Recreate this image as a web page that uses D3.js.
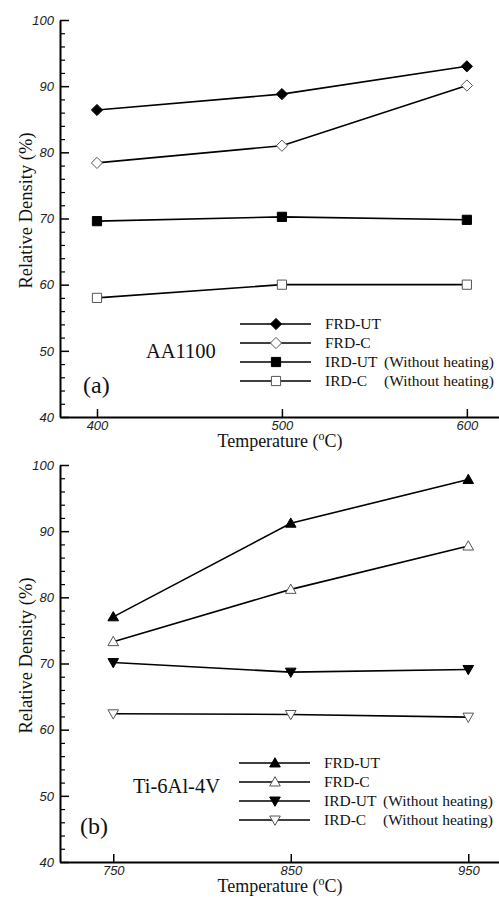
<!DOCTYPE html>
<meta charset="utf-8">
<style>
body { margin: 0; background: #fff; }
.tick text { font-family: Arial, "Liberation Sans", sans-serif; font-style: italic; font-size: 13px; fill: #222; }
.serif { font-family: "Liberation Serif", "Times New Roman", serif; fill: #111; }
</style>
<body>
<script src="https://cdn.jsdelivr.net/npm/d3@7"></script>
<script>
// panel (a) AA1100
var tempsA = [400, 500, 600];
var frdUtA = [86.4, 88.8, 93.0];
var frdCA = [78.4, 81.0, 90.1];
var irdUtA = [69.6, 70.25, 69.8];
var irdCA = [58.0, 60.0, 60.0];

// panel (b) Ti-6Al-4V
var tempsB = [750, 850, 950];
var frdUtB = [77.05, 91.2, 97.8];
var frdCB = [73.3, 81.2, 87.75];
var irdUtB = [70.15, 68.7, 69.1];
var irdCB = [62.4, 62.3, 61.9];

var seriesNames = ["FRD-UT", "FRD-C", "IRD-UT", "IRD-C"];
var noteText = "(Without heating)";
var yTicks = [40, 50, 60, 70, 80, 90, 100];

var W = 499, H = 898;
var svg = d3.select("body").append("svg")
    .attr("width", W)
    .attr("height", H);

var panels = [
  { temps: tempsA, vals: [frdUtA, frdCA, irdUtA, irdCA],
    xDom: [380, 619], top: 20, bottom: 417,
    symbols: ["diamond", "diamond", "square", "square"],
    label: "AA1100", labelX: 146, labelY: 358, tag: "(a)", tagX: 83, tagY: 393,
    legX: 240, legY: 324 },
  { temps: tempsB, vals: [frdUtB, frdCB, irdUtB, irdCB],
    xDom: [720, 969], top: 465, bottom: 862,
    symbols: ["tri", "tri", "triDown", "triDown"],
    label: "Ti-6Al-4V", labelX: 133, labelY: 793, tag: "(b)", tagX: 80, tagY: 834,
    legX: 239, legY: 763 }
];

function markerPath(type, s) {
  if (type == "diamond") return "M0," + (-s) + "L" + s + ",0L0," + s + "L" + (-s) + ",0Z";
  if (type == "square") return "M" + (-s) + "," + (-s) + "h" + 2*s + "v" + 2*s + "h" + (-2*s) + "Z";
  if (type == "tri") return "M0," + (-s) + "L" + s + "," + (s*0.75) + "L" + (-s) + "," + (s*0.75) + "Z";
  return "M0," + s + "L" + s + "," + (-s*0.75) + "L" + (-s) + "," + (-s*0.75) + "Z";
}
var markerSize = { diamond: 5.6, square: 4.6, tri: 5.3, triDown: 5.3 };

function drawMarker(g, type, filled, x, y) {
  g.append("path")
    .attr("transform", "translate(" + x + "," + y + ")")
    .attr("d", markerPath(type, markerSize[type]))
    .attr("fill", filled ? "#000" : "#fff")
    .attr("stroke", filled ? "#000" : "#555")
    .attr("stroke-width", 1);
}

panels.forEach(function(p) {
  var x = d3.scaleLinear().domain(p.xDom).range([60, 502]);
  var y = d3.scaleLinear().domain([40, 100]).range([p.bottom, p.top]);
  var g = svg.append("g");

  // minor y ticks
  g.append("g")
    .attr("transform", "translate(60,0)")
    .call(d3.axisLeft(y).tickValues(d3.range(42, 100, 2).filter(function(v) { return v % 10 != 0; }))
      .tickSize(-5).tickFormat(""))
    .call(function(a) { a.select(".domain").remove(); a.selectAll("line").attr("stroke-width", 1.2); });

  // y axis
  g.append("g")
    .attr("transform", "translate(60,0)")
    .call(d3.axisLeft(y).tickValues(yTicks).tickSize(-9).tickSizeOuter(0).tickPadding(6))
    .call(function(a) {
      a.select(".domain").attr("stroke-width", 2);
      a.selectAll("line").attr("stroke-width", 1.5);
    });

  // x axis
  g.append("g")
    .attr("transform", "translate(0," + p.bottom + ")")
    .call(d3.axisBottom(x).tickValues(p.temps).tickSize(-8).tickSizeOuter(0).tickPadding(4))
    .call(function(a) {
      a.select(".domain").attr("stroke-width", 2);
      a.selectAll("line").attr("stroke-width", 1.5);
    });

  // axis titles
  var xt = g.append("text").attr("class", "serif")
    .attr("x", 280).attr("y", p.bottom + 30)
    .attr("text-anchor", "middle").attr("font-size", 18);
  xt.append("tspan").text("Temperature (");
  xt.append("tspan").attr("dy", -7).attr("font-size", 12).text("o");
  xt.append("tspan").attr("dy", 7).text("C)");

  g.append("text").attr("class", "serif")
    .attr("transform", "translate(32," + ((p.top + p.bottom) / 2 - 8) + ") rotate(-90)")
    .attr("text-anchor", "middle").attr("font-size", 18.5)
    .text("Relative Density (%)");

  // lines + markers
  var line = d3.line()
    .x(function(d, i) { return x(p.temps[i]); })
    .y(function(d) { return y(d); });

  p.vals.forEach(function(vs, k) {
    g.append("path")
      .datum(vs)
      .attr("d", line)
      .attr("fill", "none")
      .attr("stroke", "#000")
      .attr("stroke-width", 1.6);
    vs.forEach(function(v, i) {
      drawMarker(g, p.symbols[k], k % 2 == 0, x(p.temps[i]), y(v));
    });
  });

  // legend
  seriesNames.forEach(function(name, k) {
    var ly = p.legY + k * 19;
    g.append("line")
      .attr("x1", p.legX).attr("x2", p.legX + 71)
      .attr("y1", ly).attr("y2", ly)
      .attr("stroke", "#000").attr("stroke-width", 1.6);
    drawMarker(g, p.symbols[k], k % 2 == 0, p.legX + 36, ly);
    g.append("text").attr("class", "serif")
      .attr("x", p.legX + 85).attr("y", ly + 5)
      .attr("font-size", 15.5).text(name);
    if (k >= 2) {
      g.append("text").attr("class", "serif")
        .attr("x", p.legX + 144).attr("y", ly + 5)
        .attr("font-size", 15.5).text(noteText);
    }
  });

  g.append("text").attr("class", "serif")
    .attr("x", p.labelX).attr("y", p.labelY)
    .attr("font-size", 20.5).text(p.label);
  g.append("text").attr("class", "serif")
    .attr("x", p.tagX).attr("y", p.tagY)
    .attr("font-size", 24).text(p.tag);
});
</script>
</body>
